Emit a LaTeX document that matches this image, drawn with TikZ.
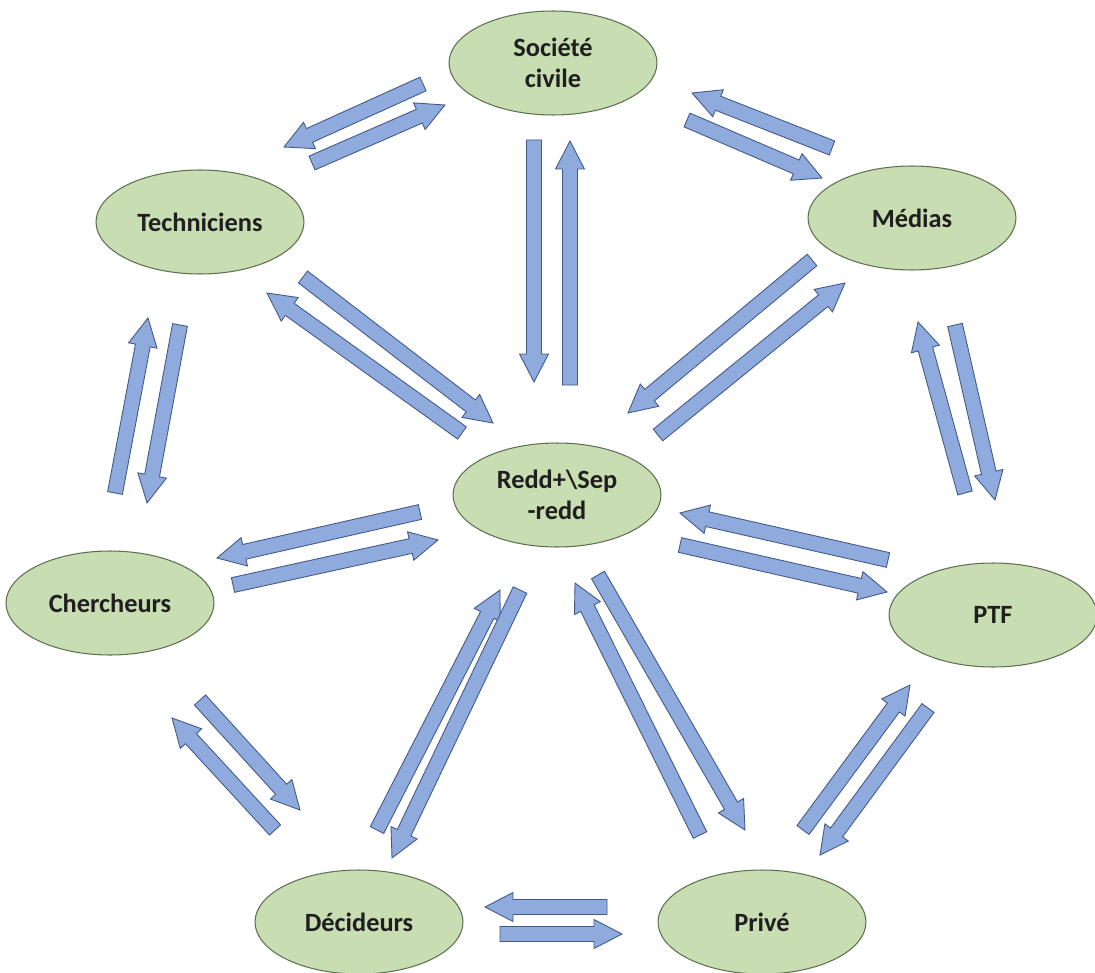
\documentclass[tikz,border=0pt]{standalone}
\usepackage{fontspec}
\setmainfont{Carlito}
\usetikzlibrary{shapes.geometric,calc}
\definecolor{vertclair}{HTML}{C9DDB2}
\definecolor{vertfonce}{HTML}{5E7052}
\definecolor{bleuflux}{HTML}{8FAADC}
\definecolor{bleubord}{HTML}{42598A}
\tikzset{
  acteur/.style={ellipse, draw=vertfonce, fill=vertclair, line width=0.6pt,
    minimum width=4.16cm, minimum height=2.08cm, inner sep=0pt, align=center,
    text=black!88, font=\fontsize{15}{18}\selectfont\bfseries},
  flux/.style={draw=bleubord, fill=bleuflux, line width=0.5pt, line join=miter}
}
\newcommand{\fleche}[3]{%
  \coordinate (#1a) at (#2);
  \coordinate (#1b) at (#3);
  \coordinate (#1n) at ($(#1b)!0.56cm!(#1a)$);
  \draw[flux] ($(#1a)!0.15cm!90:(#1b)$) -- ($(#1n)!0.15cm!90:(#1b)$)
    -- ($(#1n)!0.29cm!90:(#1b)$) -- (#1b) -- ($(#1n)!0.29cm!-90:(#1b)$)
    -- ($(#1n)!0.15cm!-90:(#1b)$) -- ($(#1a)!0.15cm!-90:(#1b)$) -- cycle;}
\begin{document}
\begin{tikzpicture}[x=0.02cm,y=-0.02cm]
\fill[white] (0,0) rectangle (1095,973);
\useasboundingbox (0,0) rectangle (1095,973);
\node[acteur] (soc) at (553,63) {Société\\civile};
\node[acteur] (tech) at (200,222) {Techniciens};
\node[acteur] (med) at (912,218) {Médias};
\node[acteur] (redd) at (557,495) {Redd+\textbackslash Sep\\-redd};
\node[acteur] (cher) at (110,603) {Chercheurs};
\node[acteur] (ptf) at (993,615) {PTF};
\node[acteur] (dec) at (359,922) {Décideurs};
\node[acteur] (prive) at (762,922) {Privé};
\fleche{st}{423,84}{284,147}
\fleche{ts}{312,163}{445,105}
\fleche{ms}{832,148}{692,93}
\fleche{sm}{687,120}{822,178}
\fleche{sr}{534,140}{534,382}
\fleche{rs}{570,385}{570,141}
\fleche{tr}{303,277}{493,423}
\fleche{rt}{462,433}{267,293}
\fleche{mr}{812,260}{628,413}
\fleche{rm}{658,435}{845,283}
\fleche{ct}{115,493}{148,318}
\fleche{tc}{180,325}{147,503}
\fleche{pm}{965,493}{918,322}
\fleche{mp}{955,325}{995,500}
\fleche{rc}{420,512}{217,558}
\fleche{cr}{233,585}{438,540}
\fleche{pr}{888,560}{680,513}
\fleche{rp}{680,545}{887,592}
\fleche{dc}{275,830}{172,718}
\fleche{cd}{200,700}{300,810}
\fleche{dr}{377,830}{500,590}
\fleche{rd}{520,590}{392,858}
\fleche{vr}{700,835}{575,583}
\fleche{rv}{598,575}{745,830}
\fleche{vp}{803,830}{910,685}
\fleche{pv}{928,708}{820,855}
\fleche{vd}{607,907}{485,907}
\fleche{dv}{500,934}{622,934}
\end{tikzpicture}
\end{document}
